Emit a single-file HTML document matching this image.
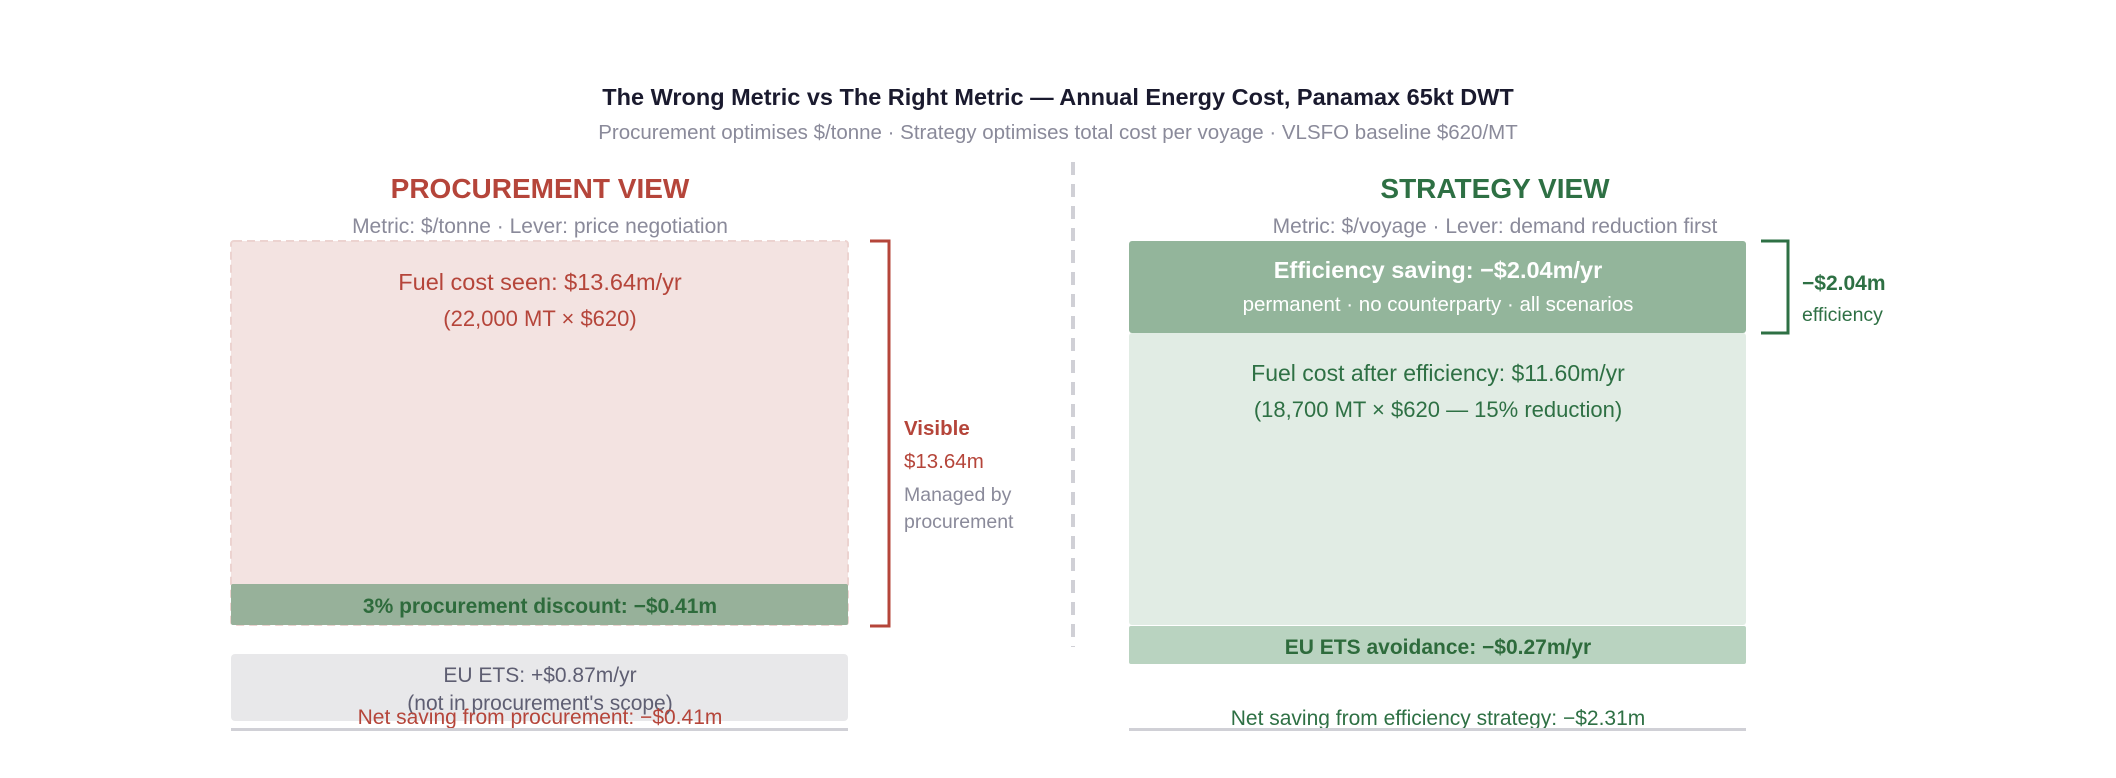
<!DOCTYPE html>
<html><head><meta charset="utf-8"><style>
html,body{margin:0;padding:0;background:#fff;}
svg{display:block;font-family:"Liberation Sans",Arial,sans-serif;}
</style></head><body>
<svg width="2116" height="778" viewBox="0 0 2116 778">
<text x="1058" y="105" text-anchor="middle" font-size="23.5" font-weight="bold" fill="#1a1a2e">The Wrong Metric vs The Right Metric — Annual Energy Cost, Panamax 65kt DWT</text>
<text x="1058" y="139" text-anchor="middle" font-size="20.5" fill="#8a8a9a">Procurement optimises $/tonne · Strategy optimises total cost per voyage · VLSFO baseline $620/MT</text>

<line x1="1073" y1="162" x2="1073" y2="647" stroke="#d0d0d6" stroke-width="4" stroke-dasharray="13,9"/>

<g>
<text x="540" y="198" text-anchor="middle" font-size="28" font-weight="bold" fill="#b5453a">PROCUREMENT VIEW</text>
<text x="540" y="233" text-anchor="middle" font-size="21" fill="#8a8a9a">Metric: $/tonne · Lever: price negotiation</text>
<rect x="231" y="241" width="617" height="384" rx="3" fill="#f3e3e1" stroke="#ecd3d0" stroke-width="2" stroke-dasharray="8,5"/>
<text x="540" y="290" text-anchor="middle" font-size="23.5" fill="#b5453a">Fuel cost seen: $13.64m/yr</text>
<text x="540" y="326" text-anchor="middle" font-size="22" fill="#b5453a">(22,000 MT × $620)</text>
<rect x="231" y="584" width="617" height="41" rx="2" fill="#97b19a"/>
<text x="540" y="613" text-anchor="middle" font-size="21" font-weight="bold" fill="#2e6b3c">3% procurement discount: −$0.41m</text>
<path d="M870 241 H889 V626 H870" fill="none" stroke="#b5453a" stroke-width="3"/>
<text x="904" y="435" font-size="20.5" font-weight="bold" fill="#b5453a">Visible</text>
<text x="904" y="468" font-size="20.5" fill="#b5453a">$13.64m</text>
<text x="904" y="501" font-size="19.5" fill="#8a8a9a">Managed by</text>
<text x="904" y="528" font-size="19.5" fill="#8a8a9a">procurement</text>
<rect x="231" y="654" width="617" height="67" rx="4" fill="#e8e8ea"/>
<text x="540" y="682" text-anchor="middle" font-size="21" fill="#5e5e72">EU ETS: +$0.87m/yr</text>
<text x="540" y="710" text-anchor="middle" font-size="21" fill="#5e5e72">(not in procurement's scope)</text>
<text x="540" y="724" text-anchor="middle" font-size="21" fill="#b5453a">Net saving from procurement: −$0.41m</text>
<rect x="231" y="728" width="617" height="3" fill="#d0d0d6"/>
</g>

<g>
<text x="1495" y="198" text-anchor="middle" font-size="28" font-weight="bold" fill="#2e7044">STRATEGY VIEW</text>
<text x="1495" y="233" text-anchor="middle" font-size="21" fill="#8a8a9a">Metric: $/voyage · Lever: demand reduction first</text>
<rect x="1129" y="333" width="617" height="292" rx="3" fill="#e1ece4"/>
<rect x="1129" y="241" width="617" height="92" rx="3" fill="#93b59b"/>
<text x="1438" y="278" text-anchor="middle" font-size="23.5" font-weight="bold" fill="#ffffff">Efficiency saving: −$2.04m/yr</text>
<text x="1438" y="311" text-anchor="middle" font-size="20.5" fill="#ffffff">permanent · no counterparty · all scenarios</text>
<text x="1438" y="381" text-anchor="middle" font-size="23" fill="#2e7044">Fuel cost after efficiency: $11.60m/yr</text>
<text x="1438" y="417" text-anchor="middle" font-size="22" fill="#2e7044">(18,700 MT × $620 — 15% reduction)</text>
<rect x="1129" y="626" width="617" height="38" rx="2" fill="#b9d3c0"/>
<text x="1438" y="654" text-anchor="middle" font-size="21" font-weight="bold" fill="#2e6b3c">EU ETS avoidance: −$0.27m/yr</text>
<path d="M1761 241 H1788 V333 H1761" fill="none" stroke="#2e7044" stroke-width="3"/>
<text x="1802" y="290" font-size="21" font-weight="bold" fill="#2e7044">−$2.04m</text>
<text x="1802" y="321" font-size="19.5" fill="#2e7044">efficiency</text>
<text x="1438" y="725" text-anchor="middle" font-size="21" fill="#2e7044">Net saving from efficiency strategy: −$2.31m</text>
<rect x="1129" y="728" width="617" height="3" fill="#d0d0d6"/>
</g>
</svg>
</body></html>
